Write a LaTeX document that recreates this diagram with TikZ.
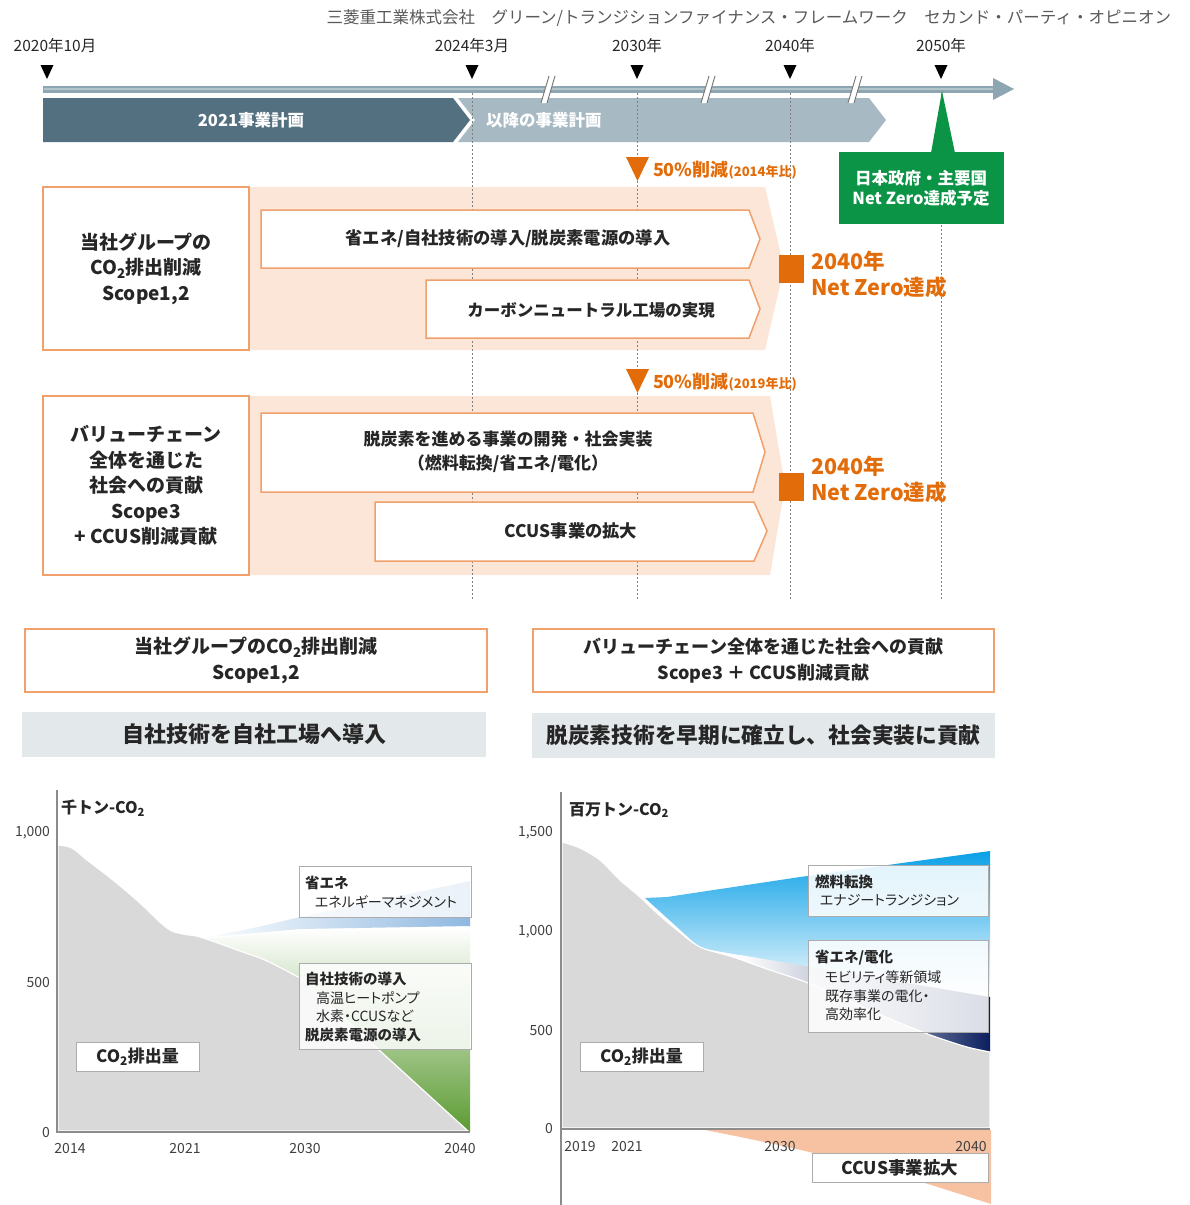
\documentclass[tikz,border=0pt]{standalone}
\usepackage{fontspec}
\setmainfont{Noto Sans CJK JP}
\newfontfamily\pfont{Noto Sans CJK JP}[RawFeature=+palt]
\usetikzlibrary{arrows.meta}
\definecolor{darkband}{HTML}{527080}
\definecolor{lightband}{HTML}{A7BAC3}
\definecolor{tline}{HTML}{8EA6B1}
\definecolor{tlinein}{HTML}{B3C4CB}
\definecolor{orng}{HTML}{E36C0A}
\definecolor{obord}{HTML}{F0A06A}
\definecolor{peach}{HTML}{FCE6D8}
\definecolor{grn}{HTML}{0C9446}
\definecolor{subgray}{HTML}{E3E8EA}
\definecolor{areagray}{HTML}{D9D9D9}
\definecolor{axisgray}{HTML}{8C8C8C}
\definecolor{ccus}{HTML}{F6C2A2}
\definecolor{navy}{HTML}{0B1F5E}
\definecolor{skyb}{HTML}{0AA0E6}
\definecolor{bluefan}{HTML}{8FB8E0}
\definecolor{grnarea}{HTML}{5B9B32}
\definecolor{hdrgray}{HTML}{595959}
\definecolor{txt}{HTML}{262626}
\newcommand\fz[2]{\fontsize{#1pt}{#2pt}\selectfont}
\newcommand\cotwo{CO\textsubscript{2}}
\begin{document}
\begin{tikzpicture}[x=1pt,y=-1pt,
  every node/.style={inner sep=0pt, outer sep=0pt, text=txt},
  tlab/.style={font=\fz{15.5}{18}},
  tri/.style={fill=black},
  arrowbox/.style={draw=obord, line width=1.5pt, fill=white},
  leftbox/.style={draw=obord, line width=2pt, fill=white, align=center, font=\bfseries\fz{19}{25.5}},
  otext/.style={text=orng, font=\bfseries\fz{21.5}{25}},
  dline/.style={draw=gray, line width=0.9pt, dash pattern=on 2pt off 2pt},
  chbox/.style={draw=gray!65, line width=0.8pt, fill=white, fill opacity=0.82},
  chb/.style={anchor=west, font=\bfseries\fz{14.5}{17}},
  chn/.style={anchor=west, font=\pfont\fz{14}{16}},
  axlab/.style={font=\fz{14}{16}, text=black!75},
  arrtext/.style={font=\bfseries\fz{17.3}{20}}
]
\useasboundingbox (0,0) rectangle (1189,1205);
\fill[white] (0,0) rectangle (1189,1205);

% header
\node[anchor=east, text=hdrgray, font=\fz{16.5}{20}] (hdr) at (1171,18) {三菱重工業株式会社　グリーン/トランジションファイナンス・フレームワーク　セカンド・パーティ・オピニオン};

% timeline labels and triangles
\node[tlab] (y20) at (55,46) {2020年10月};
\node[tlab] (y24) at (472,46) {2024年3月};
\node[tlab] (y30) at (637,46) {2030年};
\node[tlab] (y40) at (790,46) {2040年};
\node[tlab] (y50) at (941,46) {2050年};
\foreach \x in {47,472,637,790,941} \fill[tri] (\x-6.5,65) -- (\x+6.5,65) -- (\x,79) -- cycle;

% timeline arrow
\draw[tline, line width=7pt] (43,89) -- (996,89);
\draw[tlinein, line width=2.5pt] (44,89) -- (994,89);
\fill[tline] (993,78) -- (1014,89) -- (993,100) -- cycle;

% bands
\fill[darkband] (43,98) -- (453,98) -- (470,120) -- (453,142) -- (43,142) -- cycle;
\fill[lightband] (458,98) -- (869,98) -- (886,120) -- (869,142) -- (458,142) -- (475,120) -- cycle;
\node[text=white, font=\bfseries\fz{16.5}{19}] (b1) at (251,120) {2021事業計画};
\node[anchor=west, text=white, font=\bfseries\fz{16.5}{19}] (b2) at (486,120) {以降の事業計画};

% break marks
\foreach \x in {550,710,857} {
  \path[fill=white] (\x-9,103) -- (\x-3,103) -- (\x+5,76) -- (\x-1,76) -- cycle;
  \draw[black!55, line width=0.9pt] (\x-9,103) -- (\x-1,76);
  \draw[black!55, line width=0.9pt] (\x-3,103) -- (\x+5,76);
}

% peach bands
\fill[peach] (248,187) -- (765,187) -- (784,268) -- (765,350) -- (248,350) -- cycle;
\fill[peach] (248,396) -- (770,396) -- (785,486) -- (770,575) -- (248,575) -- cycle;

% dashed vertical lines
\foreach \x in {472,637,790,941} \draw[dline] (\x,93) -- (\x,600);

% green callout
\fill[grn] (931,153) -- (942,91) -- (955,153) -- cycle;
\node[fill=grn, minimum width=165pt, minimum height=72pt, align=center, text=white, font=\bfseries\fz{16.5}{20}] (gov) at (921,188) {日本政府・主要国\\Net Zero達成予定};

% orange reduction markers
\fill[orng] (626,157) -- (649,157) -- (637.5,181) -- cycle;
\node[anchor=west, text=orng, font=\bfseries\fz{18}{20}] (r1) at (653,170) {50\%削減{\fz{13}{14}(2014年比)}};
\fill[orng] (626,369) -- (649,369) -- (637.5,393) -- cycle;
\node[anchor=west, text=orng, font=\bfseries\fz{18}{20}] (r2) at (653,382) {50\%削減{\fz{13}{14}(2019年比)}};

% section 1
\node[leftbox, minimum width=206pt, minimum height=163pt] (lb1) at (146,268.5) {当社グループの\\\cotwo 排出削減\\Scope1,2};
\draw[arrowbox] (261,210) -- (749,210) -- (760,239) -- (749,268) -- (261,268) -- cycle;
\node[arrtext] (a11) at (508,239) {省エネ/自社技術の導入/脱炭素電源の導入};
\draw[arrowbox] (426,280) -- (749,280) -- (760,309) -- (749,338) -- (426,338) -- cycle;
\node[arrtext, font=\bfseries\fz{16.5}{20}] (a12) at (591,310) {カーボンニュートラル工場の実現};
\fill[orng] (779,255) rectangle (804,283);
\node[otext, anchor=west] (nz1a) at (811,261) {2040年};
\node[otext, anchor=west] (nz1b) at (811,287) {Net Zero達成};

% section 2
\node[leftbox, minimum width=206pt, minimum height=179pt] (lb2) at (146,485.5) {バリューチェーン\\全体を通じた\\社会への貢献\\Scope3\\+ CCUS削減貢献};
\draw[arrowbox] (261,413) -- (753,413) -- (765,452) -- (753,492) -- (261,492) -- cycle;
\node[arrtext, align=center, font=\bfseries\fz{17}{24}] (a21) at (508,452) {脱炭素を進める事業の開発・社会実装\\（燃料転換/省エネ/電化）};
\draw[arrowbox] (375,502) -- (754,502) -- (767,531) -- (754,561) -- (375,561) -- cycle;
\node[arrtext] (a22) at (571,531) {CCUS事業の拡大};
\fill[orng] (779,473) rectangle (804,501);
\node[otext, anchor=west] (nz2a) at (811,466) {2040年};
\node[otext, anchor=west] (nz2b) at (811,492) {Net Zero達成};

% bottom headings
\node[draw=obord, line width=2pt, minimum width=462pt, minimum height=63pt, align=center, font=\bfseries\fz{19}{26}] (h1) at (256,660.5) {当社グループの\cotwo 排出削減\\Scope1,2};
\node[fill=subgray, minimum width=464pt, minimum height=45pt, font=\bfseries\fz{22}{25}] (g1) at (254,734.5) {自社技術を自社工場へ導入};
\node[draw=obord, line width=2pt, minimum width=461pt, minimum height=63pt, align=center, font=\bfseries\fz{18}{26}] (h2) at (763.5,660.5) {バリューチェーン全体を通じた社会への貢献\\Scope3 ＋ CCUS削減貢献};
\node[fill=subgray, minimum width=463pt, minimum height=45pt, font=\bfseries\fz{21.7}{25}] (g2) at (763.5,735.5) {脱炭素技術を早期に確立し、社会実装に貢献};

% ===== chart 1 =====
\shade[left color=white, right color=bluefan] (200,938) .. controls (250,929) .. (300,917) -- (470,881) -- (470,926) -- (300,929) -- cycle;
\shade[top color=white, bottom color=grnarea] (200,939) -- (300,931) -- (470,928) -- (470,1132) -- (300,1132) -- cycle;
\fill[areagray, draw=white, line width=1.2pt] plot[smooth, tension=0.6] coordinates {(58,845) (72,848) (87,860) (113,880) (140,903) (167,928) (183,934) (200,937) (240,951) (267,961) (300,978)} -- (468,1131) -- (58,1131) -- cycle;
\draw[axisgray, line width=2pt] (57,790) -- (57,1132) -- (470,1132);
\node[axlab, anchor=east] (c1y1) at (50,833) {1,000};
\node[axlab, anchor=east] (c1y2) at (50,982) {500};
\node[axlab, anchor=east] (c1y3) at (50,1132) {0};
\node[axlab] (c1x1) at (70,1148) {2014};
\node[axlab] (c1x2) at (185,1148) {2021};
\node[axlab] (c1x3) at (305,1148) {2030};
\node[axlab] (c1x4) at (460,1148) {2040};
\node[anchor=west, font=\bfseries\fz{16}{19}] (c1t) at (61,808) {千トン-\cotwo};
\path[chbox] (299,866) rectangle (471,917);
\node[chb] (c1a1) at (305,883) {省エネ};
\node[chn] (c1a2) at (315,902) {エネルギーマネジメント};
\path[chbox] (299,963) rectangle (471,1049);
\node[chb] (c1b1) at (305,979) {自社技術の導入};
\node[chn] (c1b2) at (316,998) {高温ヒートポンプ};
\node[chn] (c1b3) at (316,1016) {水素・CCUSなど};
\node[chb] (c1b4) at (305,1035) {脱炭素電源の導入};
\path[chbox, fill opacity=1] (76,1042) rectangle (199,1071);
\node[font=\bfseries\fz{17}{20}] (c1c) at (137.5,1056.5) {\cotwo 排出量};

% ===== chart 2 =====
\shade[top color=skyb, bottom color=white] (645,898) -- (667,897) -- (800,877) -- (990,851) -- (990,1000) -- (700,948) -- cycle;
\shade[left color=white, right color=navy, middle color=navy!35] (740,955) -- (990,997) -- (990,1056) -- (740,968) -- cycle;
\fill[areagray, draw=white, line width=1.2pt] plot[smooth, tension=0.5] coordinates {(562,842) (580,848) (600,860) (620,880) (640,897) (657,913) (677,930) (700,947) (733,957) (767,969) (800,980) (833,993) (867,1009) (900,1023) (933,1036) (967,1047) (990,1052)} -- (990,1128) -- (562,1128) -- cycle;
\fill[ccus] (705,1130) .. controls (850,1158) and (910,1178) .. (991,1204) -- (991,1130) -- cycle;
\draw[axisgray, line width=2pt] (561,792) -- (561,1205);
\draw[axisgray, line width=2pt] (561,1129) -- (990,1129);
\node[axlab, anchor=east] (c2y1) at (553,833) {1,500};
\node[axlab, anchor=east] (c2y2) at (553,932) {1,000};
\node[axlab, anchor=east] (c2y3) at (553,1030) {500};
\node[axlab, anchor=east] (c2y4) at (553,1128) {0};
\node[axlab] (c2x1) at (580,1146) {2019};
\node[axlab] (c2x2) at (627,1146) {2021};
\node[axlab] (c2x3) at (780,1146) {2030};
\node[axlab] (c2x4) at (971,1146) {2040};
\node[anchor=west, font=\bfseries\fz{16}{19}] (c2t) at (569,810) {百万トン-\cotwo};
\path[chbox, fill opacity=0.88] (808,865) rectangle (988,916);
\node[chb] (c2a1) at (815,882) {燃料転換};
\node[chn] (c2a2) at (820,900) {エナジートランジション};
\path[chbox, fill opacity=0.85] (808,940) rectangle (988,1032);
\node[chb] (c2b1) at (815,958) {省エネ/電化};
\node[chn] (c2b2) at (825,977) {モビリティ等新領域};
\node[chn] (c2b3) at (825,996) {既存事業の電化・};
\node[chn] (c2b4) at (825,1014) {高効率化};
\path[chbox, fill opacity=1] (580,1042) rectangle (703,1071);
\node[font=\bfseries\fz{17}{20}] (c2c) at (641.5,1056.5) {\cotwo 排出量};
\path[chbox, fill opacity=1] (812,1153) rectangle (988,1182);
\node[font=\bfseries\fz{17.5}{20}] (c2d) at (900,1167.5) {CCUS事業拡大};
\end{tikzpicture}
\end{document}
